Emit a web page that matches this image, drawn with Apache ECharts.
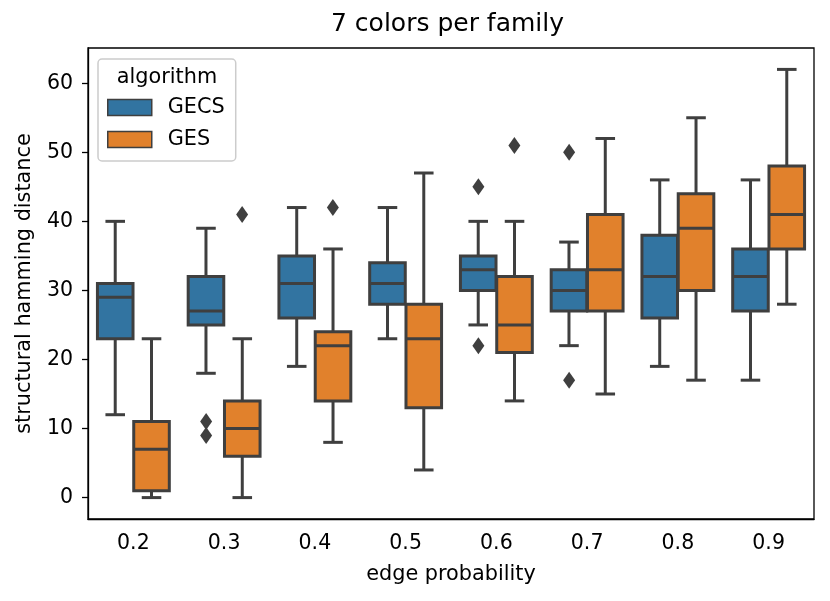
<!DOCTYPE html>
<html>
<head>
<meta charset="utf-8">
<script src="https://cdn.jsdelivr.net/npm/echarts@6.0.0/dist/echarts.min.js"></script>
<style>
  html, body { margin: 0; padding: 0; background: #fff; }
  #chart { width: 830px; height: 601px; }
</style>
</head>
<body>
<div id="chart"></div>
<script>
// edge probability categories
const categories = ['0.2', '0.3', '0.4', '0.5', '0.6', '0.7', '0.8', '0.9'];
const yTicks = [0, 10, 20, 30, 40, 50, 60];

// [min whisker, q1, median, q3, max whisker]
const gecsStats = [
    [12, 23, 29, 31, 40],
    [18, 25, 27, 32, 39],
    [19, 26, 31, 35, 42],
    [23, 28, 31, 34, 42],
    [25, 30, 33, 35, 40],
    [22, 27, 30, 33, 37],
    [19, 26, 32, 38, 46],
    [17, 27, 32, 36, 46]
];
const gesStats = [
    [0, 1, 7, 11, 23],
    [0, 6, 10, 14, 23],
    [8, 14, 22, 24, 36],
    [4, 13, 23, 28, 47],
    [14, 21, 25, 32, 40],
    [15, 27, 33, 41, 52],
    [17, 30, 39, 44, 55],
    [28, 36, 41, 48, 62]
];

// outliers [category, value]
const gecsOutliers = [['0.3', 11], ['0.3', 9], ['0.6', 45], ['0.6', 22], ['0.7', 50], ['0.7', 17]];
const gesOutliers = [['0.3', 41], ['0.4', 42], ['0.6', 51]];

const blue = '#3274a1';
const orange = '#e1812c';
const lineGray = '#3f3f3f';
const font = 'DejaVu Sans';

//箱线图 side: -1 左边, 1 右边
const boxRender = (side, fill) => (params, api) => {
    const idx = api.value(0);
    const band = api.size([1, 0])[0];
    const boxW = band * 0.392;
    const cx = api.coord([idx, 0])[0] + side * band * 0.2;
    const yMin = api.coord([idx, api.value(1)])[1];
    const yQ1 = api.coord([idx, api.value(2)])[1];
    const yMed = api.coord([idx, api.value(3)])[1];
    const yQ3 = api.coord([idx, api.value(4)])[1];
    const yMax = api.coord([idx, api.value(5)])[1];
    const capW = boxW * 0.55;
    const stroke = { stroke: lineGray, lineWidth: 3 };
    return {
        type: 'group',
        children: [
            { type: 'line', shape: { x1: cx, y1: yQ3, x2: cx, y2: yMax }, style: stroke },
            { type: 'line', shape: { x1: cx, y1: yQ1, x2: cx, y2: yMin }, style: stroke },
            { type: 'line', shape: { x1: cx - capW / 2, y1: yMax, x2: cx + capW / 2, y2: yMax }, style: stroke },
            { type: 'line', shape: { x1: cx - capW / 2, y1: yMin, x2: cx + capW / 2, y2: yMin }, style: stroke },
            {
                type: 'rect',
                shape: { x: cx - boxW / 2, y: yQ3, width: boxW, height: yQ1 - yQ3 },
                style: { fill: fill, stroke: lineGray, lineWidth: 3 }
            },
            { type: 'line', shape: { x1: cx - boxW / 2, y1: yMed, x2: cx + boxW / 2, y2: yMed }, style: stroke }
        ]
    };
};

const toRows = (stats) => stats.map((s, i) => [i].concat(s));

const option = {
    animation: false,
    textStyle: { fontFamily: font, color: '#000' },
    title: {
        text: '7 colors per family',
        left: 331,
        top: 12,
        padding: 0,
        textStyle: { fontFamily: font, fontSize: 25, fontWeight: 'normal', color: '#000' }
    },
    graphic: [{
        type: 'text',
        x: 167,
        y: 78,
        z: 100,
        style: {
            text: 'algorithm',
            fontFamily: font,
            fontSize: 20.8,
            fill: '#000',
            align: 'center',
            verticalAlign: 'middle'
        }
    }],
    legend: {
        data: ['GECS', 'GES'],
        orient: 'vertical',
        left: 98,
        top: 59,
        padding: [38, 11, 11, 9],
        itemWidth: 44,
        itemHeight: 16,
        itemGap: 11,
        icon: 'rect',
        borderColor: '#cccccc',
        borderWidth: 1.5,
        borderRadius: 4,
        backgroundColor: 'rgba(255,255,255,0.8)',
        itemStyle: { borderColor: lineGray, borderWidth: 1.5 },
        textStyle: { fontFamily: font, fontSize: 20.8, color: '#000', padding: [0, 0, 0, 11] }
    },
    grid: {
        left: 88,
        right: 16,
        top: 48,
        bottom: 82,
        show: true,
        borderColor: '#000',
        borderWidth: 1.3
    },
    xAxis: {
        type: 'category',
        data: categories,
        name: 'edge probability',
        nameLocation: 'middle',
        nameGap: 45,
        nameTextStyle: { fontFamily: font, fontSize: 20.8, color: '#000' },
        axisLine: { onZero: false, lineStyle: { color: '#000', width: 1.3 } },
        axisTick: { alignWithLabel: true, length: 6, lineStyle: { color: '#000', width: 1.3 } },
        axisLabel: { fontFamily: font, fontSize: 20.5, color: '#000', margin: 14 },
        splitLine: { show: false }
    },
    yAxis: {
        type: 'value',
        min: -3.1,
        max: 65.1,
        name: 'structural hamming distance',
        nameLocation: 'middle',
        nameGap: 53,
        nameTextStyle: { fontFamily: font, fontSize: 20.8, color: '#000' },
        axisLine: { show: true, lineStyle: { color: '#000', width: 1.3 } },
        axisTick: { show: true, length: 6, customValues: yTicks, lineStyle: { color: '#000', width: 1.3 } },
        axisLabel: { fontFamily: font, fontSize: 20.5, color: '#000', margin: 15, customValues: yTicks },
        splitLine: { show: false }
    },
    series: [
        {
            name: 'GECS',
            type: 'custom',
            itemStyle: { color: blue },
            renderItem: boxRender(-1, blue),
            encode: { x: 0, y: [1, 2, 3, 4, 5] },
            data: toRows(gecsStats)
        },
        {
            name: 'GES',
            type: 'custom',
            itemStyle: { color: orange },
            renderItem: boxRender(1, orange),
            encode: { x: 0, y: [1, 2, 3, 4, 5] },
            data: toRows(gesStats)
        },
        {
            name: 'GECS outliers',
            type: 'scatter',
            symbol: 'diamond',
            symbolSize: [12, 17],
            symbolOffset: [-18, 0],
            itemStyle: { color: lineGray, opacity: 1 },
            data: gecsOutliers
        },
        {
            name: 'GES outliers',
            type: 'scatter',
            symbol: 'diamond',
            symbolSize: [12, 17],
            symbolOffset: [18, 0],
            itemStyle: { color: lineGray, opacity: 1 },
            data: gesOutliers
        }
    ]
};

const chart = echarts.init(document.getElementById('chart'));
chart.setOption(option);
</script>
</body>
</html>
